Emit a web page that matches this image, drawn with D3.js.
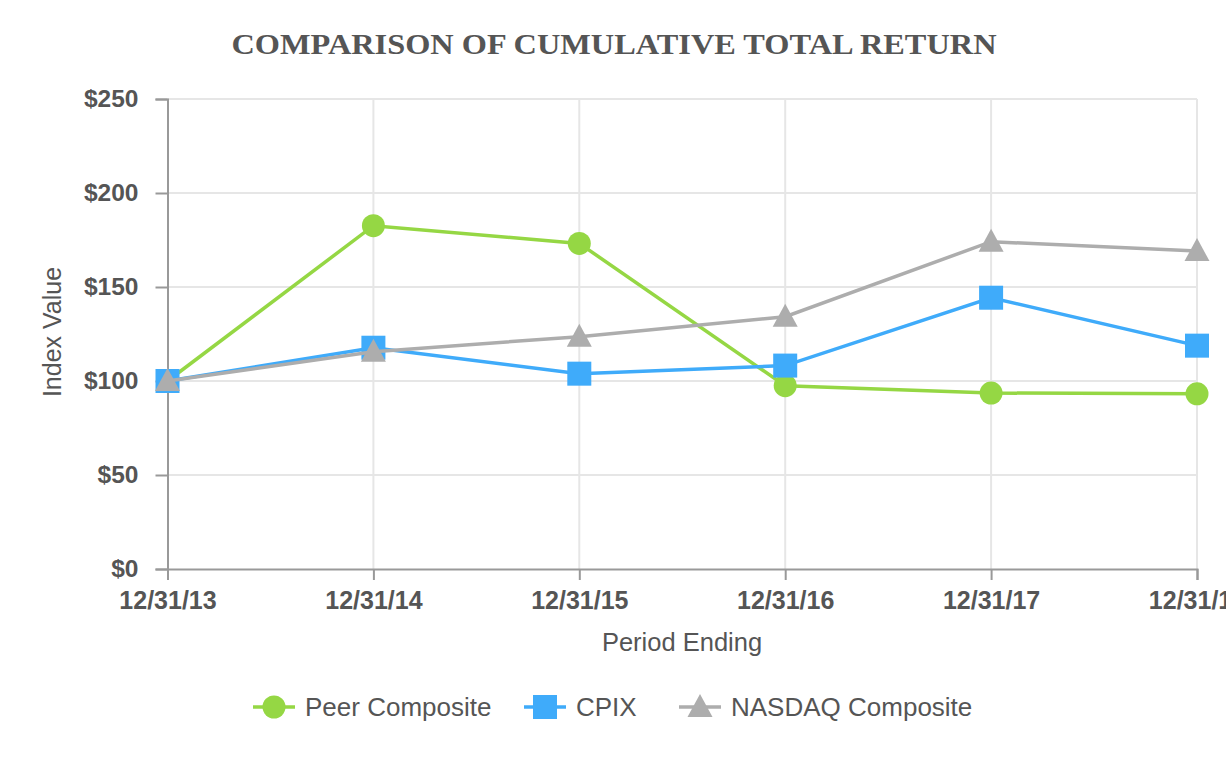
<!DOCTYPE html>
<meta charset="utf-8">
<script src="https://d3js.org/d3.v7.min.js"></script>
<style>
  body { margin: 0; background: #fff; }
</style>
<div id="chart"></div>
<script>
    // data
    var periods = ["12/31/13", "12/31/14", "12/31/15", "12/31/16", "12/31/17", "12/31/18"];
    var peerValues = [100, 182.6, 173.2, 97.5, 93.6, 93.2];
    var cpixValues = [100, 117.7, 103.9, 108.2, 144.3, 118.8];
    var nasdaqValues = [100, 115.6, 123.6, 134.2, 174.1, 169.1];
    var yTicks = [0, 50, 100, 150, 200, 250];

    var seriesList = [
        { name: "Peer Composite", values: peerValues, color: "#95d744", symbol: "circle" },
        { name: "CPIX", values: cpixValues, color: "#3fabfa", symbol: "square" },
        { name: "NASDAQ Composite", values: nasdaqValues, color: "#adadad", symbol: "triangle" }
    ];

    var width = 1226, height = 760;
    var margin = { top: 99, right: 29, bottom: 191, left: 167.5 };
    var innerW = width - margin.left - margin.right;
    var innerH = height - margin.top - margin.bottom;
    var textColor = "#555555";

    var svg = d3.select("#chart").append("svg")
        .attr("width", width)
        .attr("height", height)
        .style("font-family", "Liberation Sans, Arial, sans-serif");

    var g = svg.append("g")
        .attr("transform", "translate(" + margin.left + "," + margin.top + ")");

    var x = d3.scalePoint().domain(periods).range([0, innerW]);
    var y = d3.scaleLinear().domain([0, 250]).range([innerH, 0]);

    // title
    svg.append("text")
        .attr("x", 614)
        .attr("y", 54)
        .attr("text-anchor", "middle")
        .attr("font-family", "Liberation Serif, Times New Roman, serif")
        .attr("font-weight", "bold")
        .attr("font-size", 30)
        .attr("fill", textColor)
        .attr("textLength", 765)
        .attr("lengthAdjust", "spacingAndGlyphs")
        .text("COMPARISON OF CUMULATIVE TOTAL RETURN");

    // grid lines
    g.selectAll(".hgrid")
        .data(yTicks.filter(function(d) { return d > 0; }))
        .enter().append("line")
        .attr("x1", 0).attr("x2", innerW)
        .attr("y1", function(d) { return y(d); })
        .attr("y2", function(d) { return y(d); })
        .attr("stroke", "#e6e6e6")
        .attr("stroke-width", 2);

    g.selectAll(".vgrid")
        .data(periods.slice(1))
        .enter().append("line")
        .attr("x1", function(d) { return x(d); })
        .attr("x2", function(d) { return x(d); })
        .attr("y1", 0).attr("y2", innerH)
        .attr("stroke", "#e6e6e6")
        .attr("stroke-width", 2);

    // y axis
    var yAxis = g.append("g")
        .call(d3.axisLeft(y).tickValues(yTicks).tickSize(12).tickPadding(17)
            .tickFormat(function(d) { return "$" + d; }));
    yAxis.select(".domain").attr("stroke", "#999").attr("stroke-width", 2);
    yAxis.selectAll(".tick line").attr("stroke", "#999").attr("stroke-width", 2);
    yAxis.selectAll(".tick text")
        .attr("font-size", 24.5).attr("font-weight", "bold")
        .attr("fill", textColor)
        .attr("font-family", "Liberation Sans, Arial, sans-serif");

    // x axis
    var xAxis = g.append("g")
        .attr("transform", "translate(0," + innerH + ")")
        .call(d3.axisBottom(x).tickSize(11).tickPadding(11));
    xAxis.select(".domain").attr("stroke", "#999").attr("stroke-width", 2);
    xAxis.selectAll(".tick line").attr("stroke", "#999").attr("stroke-width", 2);
    xAxis.selectAll(".tick text")
        .attr("font-size", 25).attr("font-weight", "bold")
        .attr("fill", textColor)
        .attr("font-family", "Liberation Sans, Arial, sans-serif");

    // axis titles
    svg.append("text")
        .attr("transform", "translate(61,332) rotate(-90)")
        .attr("text-anchor", "middle")
        .attr("font-size", 25)
        .attr("fill", textColor)
        .text("Index Value");

    svg.append("text")
        .attr("x", 682)
        .attr("y", 651)
        .attr("text-anchor", "middle")
        .attr("font-size", 25.5)
        .attr("fill", textColor)
        .text("Period Ending");

    function drawSymbol(sel, s) {
        if (s.symbol === "circle") {
            sel.append("circle").attr("r", 11.5).attr("fill", s.color);
        } else if (s.symbol === "square") {
            sel.append("rect").attr("x", -12).attr("y", -12)
                .attr("width", 24).attr("height", 24).attr("fill", s.color);
        } else {
            sel.append("path").attr("d", "M0,-13 L12.5,10 L-12.5,10 Z").attr("fill", s.color);
        }
    }

    var line = d3.line()
        .x(function(d, i) { return x(periods[i]); })
        .y(function(d) { return y(d); });

    // lines and markers
    seriesList.forEach(function(s) {
        g.append("path")
            .datum(s.values)
            .attr("d", line)
            .attr("fill", "none")
            .attr("stroke", s.color)
            .attr("stroke-width", 3.5);

        s.values.forEach(function(v, i) {
            var m = g.append("g")
                .attr("transform", "translate(" + x(periods[i]) + "," + y(v) + ")");
            drawSymbol(m, s);
        });
    });

    // legend
    var legendPos = [253, 524, 679];
    seriesList.forEach(function(s, i) {
        var lg = svg.append("g").attr("transform", "translate(" + legendPos[i] + ",707)");
        lg.append("line").attr("x1", 0).attr("x2", 42)
            .attr("stroke", s.color).attr("stroke-width", 3.5);
        var m = lg.append("g").attr("transform", "translate(21,0)");
        drawSymbol(m, s);
        lg.append("text")
            .attr("x", 52)
            .attr("y", 9)
            .attr("font-size", 26)
            .attr("fill", textColor)
            .text(s.name);
    });
</script>
